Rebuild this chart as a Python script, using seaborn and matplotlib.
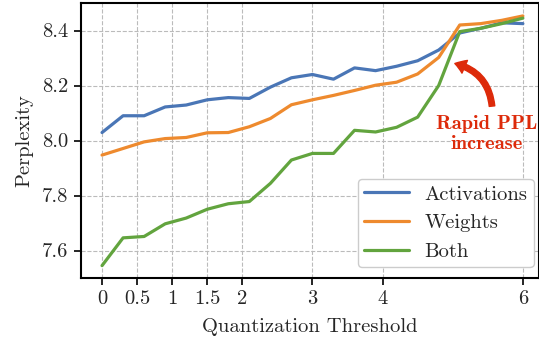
import pandas as pd
import seaborn as sns
from matplotlib import pyplot as plt

# threshold values and perplexity per quantization target
threshold = [0.0, 0.3, 0.6, 0.9, 1.2, 1.5, 1.8, 2.1, 2.4, 2.7, 3.0,
             3.3, 3.6, 3.9, 4.2, 4.5, 4.8, 5.1, 5.4, 5.7, 6.0]
activations = [8.029, 8.090, 8.090, 8.122, 8.129, 8.148, 8.156, 8.153, 8.194, 8.228, 8.240,
               8.223, 8.264, 8.254, 8.270, 8.290, 8.329, 8.391, 8.408, 8.428, 8.425]
weights = [7.947, 7.971, 7.995, 8.007, 8.011, 8.028, 8.029, 8.050, 8.080, 8.130, 8.148,
           8.164, 8.182, 8.201, 8.212, 8.242, 8.302, 8.420, 8.425, 8.437, 8.453]
both = [7.545, 7.646, 7.651, 7.697, 7.718, 7.750, 7.770, 7.778, 7.844, 7.929, 7.953,
        7.953, 8.037, 8.031, 8.048, 8.085, 8.200, 8.396, 8.408, 8.425, 8.445]

methods = ['Activations', 'Weights', 'Both']
colors = ['#4A76B6', '#EE8A2E', '#62A43E']
x_ticks = [0, 0.5, 1, 1.5, 2, 3, 4, 6]
x_tick_labels = ['0', '0.5', '1', '1.5', '2', '3', '4', '6']
y_ticks = [7.6, 7.8, 8.0, 8.2, 8.4]
y_tick_labels = ['7.6', '7.8', '8.0', '8.2', '8.4']

frames = []
for name, vals in zip(methods, [activations, weights, both]):
    frames.append(pd.DataFrame({'threshold': threshold, 'ppl': vals, 'Method': name}))
data = pd.concat(frames, ignore_index=True)

sns.set_style('whitegrid')
plt.rcParams['font.family'] = 'serif'
plt.rcParams['font.serif'] = ['cmr10']
plt.rcParams['axes.formatter.use_mathtext'] = True
plt.rcParams['mathtext.fontset'] = 'cm'

FS = 14.8
RED = '#DD2A0A'

fig = plt.figure(figsize=(5.39, 3.41), dpi=100)
ax = fig.add_axes([81 / 539, 63 / 341, 458 / 539, 275 / 341])

sns.lineplot(data=data, x='threshold', y='ppl', hue='Method',
             hue_order=methods, palette=colors, linewidth=2.3, ax=ax)

ax.set_xlim(-0.3, 6.23)
ax.set_ylim(7.5, 8.5)
ax.set_xticks(x_ticks)
ax.set_xticklabels(x_tick_labels)
ax.set_yticks(y_ticks)
ax.set_yticklabels(y_tick_labels)
ax.tick_params(axis='both', labelsize=FS, length=5, width=1.2,
               direction='out', color='black', bottom=True, left=True, pad=4)
ax.grid(True, linestyle='--', color='#bbbbbb', linewidth=0.8)

for side in ['left', 'bottom', 'top', 'right']:
    ax.spines[side].set_color('black')
    ax.spines[side].set_linewidth(1.5)

ax.set_xlabel('Quantization Threshold', fontsize=FS, labelpad=7)
ax.set_ylabel('Perplexity', fontsize=FS, labelpad=6)

ax.legend(loc='lower right', bbox_to_anchor=(0.988, 0.04), fontsize=FS,
          handlelength=2.2, frameon=True, framealpha=1, edgecolor='#cccccc',
          fancybox=True, borderpad=0.3, labelspacing=0.5, handletextpad=0.75,
          borderaxespad=0.0)

# red callout
ax.text(5.49, 8.024, 'Rapid PPL\nincrease', ha='center', va='center',
        color=RED, fontsize=FS, fontfamily='cmb10', linespacing=1.2)
ax.annotate('', xy=(5.03, 8.28), xytext=(5.56, 8.125),
            arrowprops=dict(arrowstyle='simple,head_length=0.75,head_width=1.0,tail_width=0.4',
                            color=RED, connectionstyle='arc3,rad=0.35',
                            shrinkA=0, shrinkB=0))

plt.savefig('out.png', dpi=100)
